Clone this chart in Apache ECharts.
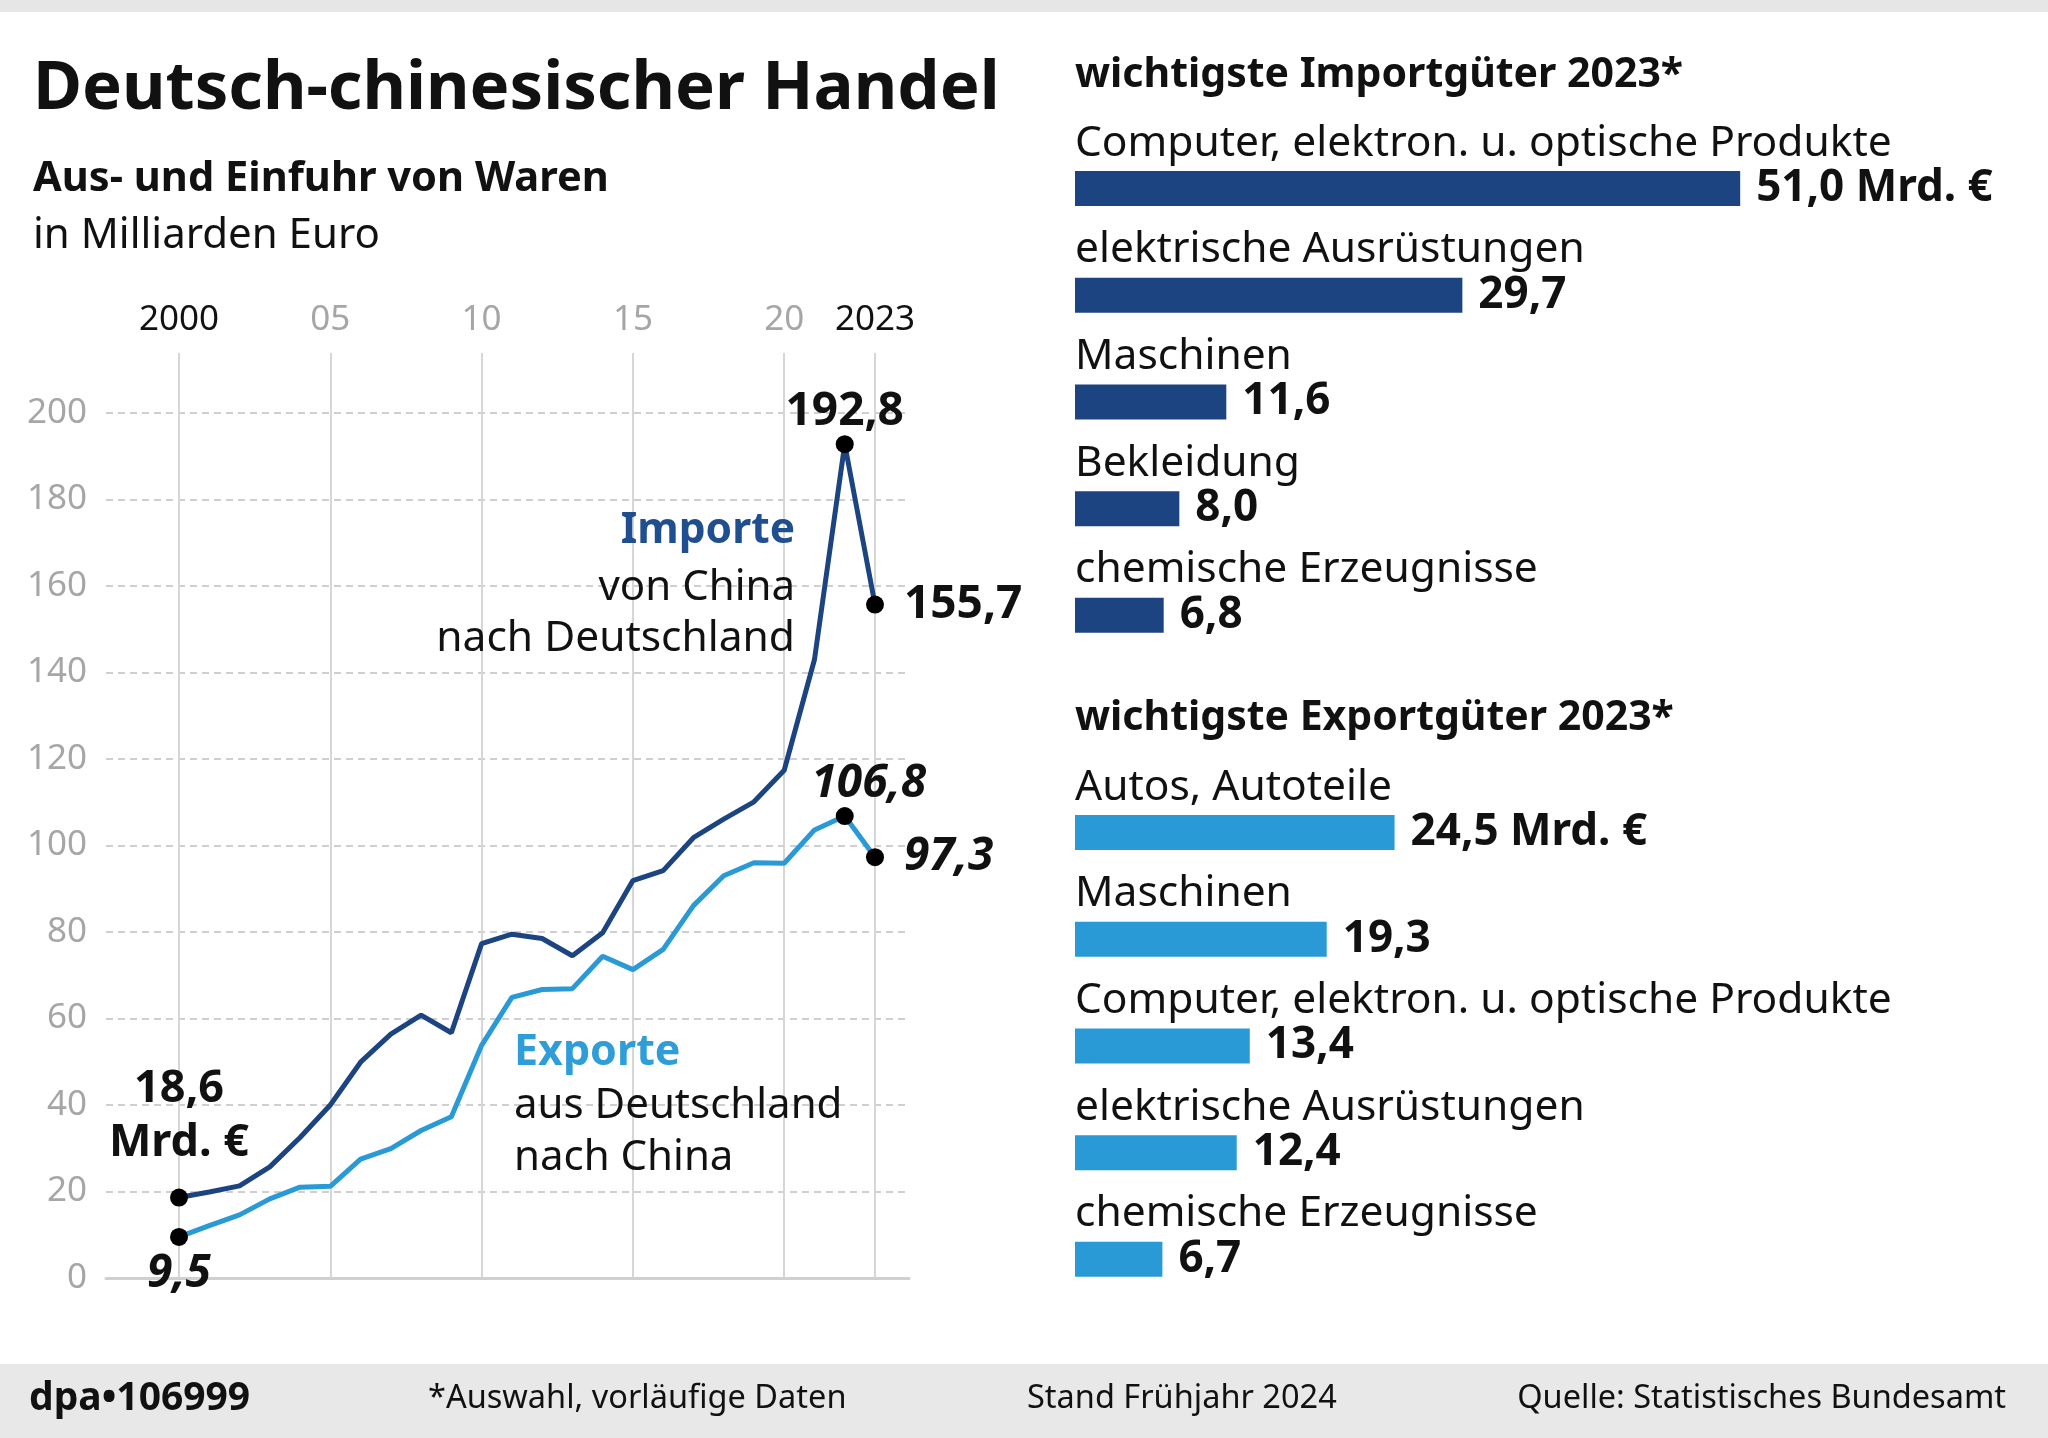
<!DOCTYPE html>
<html><head><meta charset="utf-8">
<script src="https://cdn.jsdelivr.net/npm/echarts@6/dist/echarts.min.js"></script>
<style>html,body{margin:0;padding:0;background:#fff}#c{width:2048px;height:1438px}</style>
</head><body><div id="c"></div>
<script>
// ---------- data ----------
const years = ['2000','2001','2002','2003','2004','2005','2006','2007','2008','2009','2010','2011','2012','2013','2014','2015','2016','2017','2018','2019','2020','2021','2022','2023'];
const importsFromChina = [18.6,19.9,21.3,25.7,32.5,40.0,49.9,56.4,60.8,56.7,77.3,79.5,78.5,74.5,79.8,91.9,94.2,101.8,106.1,110.1,117.4,143.0,192.8,155.7];
const exportsToChina = [9.5,12.1,14.6,18.3,21.0,21.2,27.5,29.9,34.1,37.3,53.8,64.9,66.7,66.9,74.4,71.3,76.0,86.1,93.0,96.0,95.9,103.6,106.8,97.3];
const xTickYears = ['2000','2005','2010','2015','2020','2023'];
const xTickLabels = ['2000','05','10','15','20','2023'];
const yMin = 0, yMax = 200, yStep = 20;
const importGoods = ['Computer, elektron. u. optische Produkte','elektrische Ausrüstungen','Maschinen','Bekleidung','chemische Erzeugnisse'];
const importGoodsValues = [51.0,29.7,11.6,8.0,6.8];
const exportGoods = ['Autos, Autoteile','Maschinen','Computer, elektron. u. optische Produkte','elektrische Ausrüstungen','chemische Erzeugnisse'];
const exportGoodsValues = [24.5,19.3,13.4,12.4,6.7];

// ---------- styles ----------
const F = '"Noto Sans", Lato, sans-serif';
const FN = '"Noto Sans", Lato, sans-serif';
const DARK = '#1b4480';
const LIGHT = '#2a9ad7';
const fmt = v => v.toFixed(1).replace('.', ',');

function T(text, x, baseline, size, o) {
  o = o || {};
  return {
    type: 'text', x: x, y: baseline - 0.34 * size, z: 100,
    style: {
      text: text, fill: o.fill || '#111',
      font: (o.italic ? 'italic ' : '') + (o.weight || 'normal') + ' ' + size + 'px ' + F,
      textAlign: o.align || 'left', textVerticalAlign: 'middle', verticalAlign: 'middle'
    }
  };
}

const chart = echarts.init(document.getElementById('c'), null, {renderer: 'canvas'});

function lineData(values, cfg) {
  return values.map((v, i) => {
    const c = cfg[years[i]];
    const item = { value: v };
    if (c) {
      item.symbol = 'circle';
      item.symbolSize = 18;
      item.label = Object.assign({ show: true, color: '#111', fontWeight: 'bold', fontSize: 46, fontFamily: F }, c);
    } else {
      item.symbol = 'none';
    }
    return item;
  });
}

const impCfg = {
  '2000': { position: 'top', distance: 18, fontSize: 45, formatter: p => fmt(p.value) + '\nMrd. €', lineHeight: 54 },
  '2022': { position: 'top', distance: 0, fontSize: 46, formatter: p => fmt(p.value) },
  '2023': { position: 'right', distance: 20, fontSize: 46, formatter: p => fmt(p.value) }
};
const expCfg = {
  '2000': { position: 'bottom', distance: 5, fontSize: 46, fontStyle: 'italic', formatter: p => fmt(p.value) },
  '2022': { position: 'top', distance: 0, fontSize: 46, fontStyle: 'italic', offset: [24, 0], formatter: p => fmt(p.value) },
  '2023': { position: 'right', distance: 20, fontSize: 46, fontStyle: 'italic', formatter: p => fmt(p.value) }
};

const isTick = (i, v) => xTickYears.indexOf(v) >= 0;

function barSeries(goods, values, xi, color) {
  return [
    {
      type: 'bar', xAxisIndex: xi, yAxisIndex: xi, data: values, barWidth: 35, barGap: '-100%',
      itemStyle: { color: color }, silent: true,
      label: { show: true, position: 'right', distance: 16, color: '#111', fontFamily: F, fontWeight: 'bold', fontSize: 44,
        formatter: p => fmt(p.value) + (p.dataIndex === 0 ? ' Mrd. €' : '') }
    },
    {
      type: 'bar', xAxisIndex: xi, yAxisIndex: xi, data: values, barWidth: 35, barGap: '-100%',
      itemStyle: { color: 'rgba(0,0,0,0)' }, silent: true,
      label: { show: true, position: [0, -6], align: 'left', verticalAlign: 'bottom', color: '#111', fontFamily: F, fontSize: 42.5,
        formatter: p => goods[p.dataIndex] }
    }
  ];
}

const option = {
  backgroundColor: '#fff',
  animation: false,
  grid: [
    { left: 106, right: 1139, top: 413, bottom: 160 },
    { left: 179, right: 1173, top: 353, bottom: 160 },
    { left: 179, right: 1173, top: 413, bottom: 160 },
    { left: 1075, width: 913, top: 135.2, height: 533.5 },
    { left: 1075, width: 913, top: 779.2, height: 533.5 }
  ],
  xAxis: [
    { gridIndex: 0, type: 'value', min: 0, max: 1, axisLine: { show: true, lineStyle: { color: '#d0d0d0', width: 3 } },
      axisTick: { show: false }, axisLabel: { show: false }, splitLine: { show: false } },
    { gridIndex: 1, type: 'category', data: years, boundaryGap: false, position: 'top',
      axisLine: { show: false }, axisTick: { show: false },
      splitLine: { show: true, interval: isTick, lineStyle: { color: '#d6d6d6', width: 2 } },
      axisLabel: { interval: isTick, margin: 15, fontFamily: FN, fontSize: 35,
        formatter: v => { const k = xTickYears.indexOf(v); const t = xTickLabels[k]; return (k === 0 || k === xTickYears.length - 1) ? '{b|' + t + '}' : '{g|' + t + '}'; },
        rich: { b: { color: '#111', fontFamily: FN, fontSize: 35 }, g: { color: '#a6a6a6', fontFamily: FN, fontSize: 35 } } } },
    { gridIndex: 2, type: 'category', data: years, boundaryGap: false, show: false },
    { gridIndex: 3, type: 'value', min: 0, max: 70, show: false },
    { gridIndex: 4, type: 'value', min: 0, max: 70, show: false }
  ],
  yAxis: [
    { gridIndex: 0, type: 'value', min: yMin, max: yMax, interval: yStep,
      axisLine: { show: false }, axisTick: { show: false },
      axisLabel: { color: '#a6a6a6', fontFamily: FN, fontSize: 35, margin: 19 },
      splitLine: { show: true, lineStyle: { color: '#cfcfcf', width: 2, type: [7, 5] } } },
    { gridIndex: 1, type: 'value', min: 0, max: 1, show: false },
    { gridIndex: 2, type: 'value', min: yMin, max: yMax, show: false },
    { gridIndex: 3, type: 'category', data: importGoods, inverse: true, show: false },
    { gridIndex: 4, type: 'category', data: exportGoods, inverse: true, show: false }
  ],
  series: [
    { type: 'line', name: 'Importe', xAxisIndex: 2, yAxisIndex: 2, data: lineData(importsFromChina, impCfg),
      lineStyle: { color: DARK, width: 5 }, itemStyle: { color: '#000' }, z: 5, showAllSymbol: true },
    { type: 'line', name: 'Exporte', xAxisIndex: 2, yAxisIndex: 2, data: lineData(exportsToChina, expCfg),
      lineStyle: { color: LIGHT, width: 5 }, itemStyle: { color: '#000' }, z: 4, showAllSymbol: true }
  ].concat(barSeries(importGoods, importGoodsValues, 3, DARK)).concat(barSeries(exportGoods, exportGoodsValues, 4, LIGHT)),
  graphic: [
    { type: 'rect', shape: { x: 0, y: 0, width: 2048, height: 12 }, style: { fill: '#e6e6e6' }, z: 0 },
    { type: 'rect', shape: { x: 0, y: 1364, width: 2048, height: 74 }, style: { fill: '#e8e8e8' }, z: 0 },
    T('Deutsch-chinesischer Handel', 33, 113, 67, { weight: 'bold' }),
    T('Aus- und Einfuhr von Waren', 33, 193, 41.6, { weight: 'bold' }),
    T('in Milliarden Euro', 33, 250, 42),
    T('Importe', 795, 545, 42.5, { weight: 'bold', fill: '#1f4f8f', align: 'right' }),
    T('von China', 795, 602, 42, { align: 'right' }),
    T('nach Deutschland', 795, 653, 42.5, { align: 'right' }),
    T('Exporte', 514, 1067, 43, { weight: 'bold', fill: '#2e9dd8' }),
    T('aus Deutschland', 514, 1120, 42),
    T('nach China', 514, 1172, 42),
    T('wichtigste Importgüter 2023*', 1075, 89, 41, { weight: 'bold' }),
    T('wichtigste Exportgüter 2023*', 1075, 732, 41, { weight: 'bold' }),
    T('dpa\u2022106999', 29, 1412, 39, { weight: 'bold' }),
    T('*Auswahl, vorläufige Daten', 428, 1410, 32.5),
    T('Stand Frühjahr 2024', 1027, 1410, 32.5),
    T('Quelle: Statistisches Bundesamt', 2006, 1410, 32.5, { align: 'right' })
  ]
};
chart.setOption(option);
</script></body></html>
